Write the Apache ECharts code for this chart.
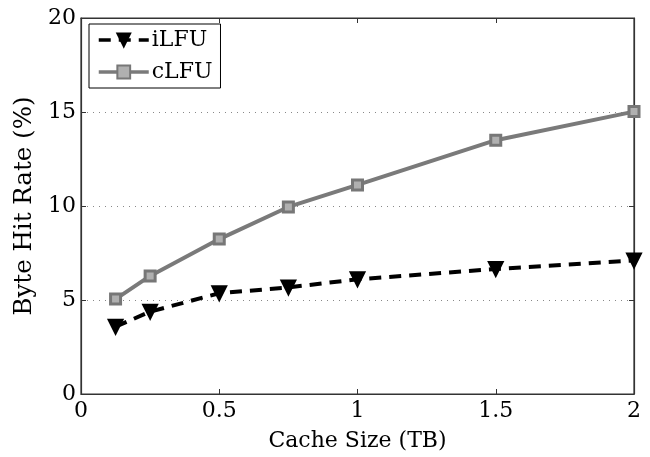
<!DOCTYPE html>
<html><head><meta charset="utf-8">
<script src="https://cdn.jsdelivr.net/npm/echarts@6/dist/echarts.min.js"></script>
<style>html,body{margin:0;padding:0;background:#fff}#c{width:650px;height:457px}</style>
</head><body><div id="c"></div>
<script>
const cacheSizes = [0.125, 0.25, 0.5, 0.75, 1, 1.5, 2];
const iLFU = [3.58, 4.38, 5.36, 5.67, 6.1, 6.65, 7.1];
const cLFU = [5.05, 6.28, 8.24, 9.95, 11.12, 13.5, 15.02];
const xTicks = [0, 0.5, 1, 1.5, 2];
const yTicks = [0, 5, 10, 15, 20];

const font = 'DejaVu Serif';
const chart = echarts.init(document.getElementById('c'));
const axisLine = {show: true, onZero: false, lineStyle: {color: '#333', width: 1.2}};
const tick = {show: true, inside: true, length: 5, lineStyle: {color: '#333'}};
chart.setOption({
  animation: false,
  grid: {left: 81, right: 16, top: 18, bottom: 63, show: true, borderColor: '#333', borderWidth: 1.2, backgroundColor: 'transparent'},
  legend: {
    left: 89, top: 24, orient: 'vertical',
    backgroundColor: '#fff', borderColor: '#000', borderWidth: 1,
    padding: [5, 8, 5, 8], itemGap: 10, itemWidth: 50, itemHeight: 16,
    lineStyle: {width: 3.5},
    textStyle: {fontFamily: font, fontSize: 22, color: '#000', padding: [0, 0, 0, -2]},
    data: ['iLFU', 'cLFU']
  },
  xAxis: [{
    type: 'value', min: 0, max: 2, interval: 0.5,
    name: 'Cache Size (TB)', nameLocation: 'middle', nameGap: 36,
    nameTextStyle: {fontFamily: font, fontSize: 22, color: '#000'},
    axisLine, axisTick: tick,
    axisLabel: {fontFamily: font, fontSize: 22, color: '#000', margin: 6,
      formatter: v => xTicks.includes(v) ? String(v) : ''},
    splitLine: {show: false}
  }, {
    type: 'value', position: 'top', min: 0, max: 2, interval: 0.5,
    axisLine, axisTick: tick, axisLabel: {show: false}, splitLine: {show: false}
  }],
  yAxis: [{
    type: 'value', min: 0, max: 20, interval: 5,
    name: 'Byte Hit Rate (%)', nameLocation: 'middle', nameGap: 42,
    nameTextStyle: {fontFamily: font, fontSize: 24.5, color: '#000'},
    axisLine, axisTick: tick,
    axisLabel: {fontFamily: font, fontSize: 22, color: '#000', margin: 5,
      formatter: v => yTicks.includes(v) ? String(v) : ''},
    splitLine: {show: true, lineStyle: {color: '#888', type: [1, 5], width: 1}}
  }, {
    type: 'value', position: 'right', min: 0, max: 20, interval: 5,
    axisLine, axisTick: tick, axisLabel: {show: false}, splitLine: {show: false}
  }],
  series: [{
    name: 'iLFU', type: 'line', xAxisIndex: 0, yAxisIndex: 0,
    data: cacheSizes.map((x, i) => [x, iLFU[i]]),
    symbol: 'triangle', symbolRotate: 180, symbolSize: 14,
    lineStyle: {color: '#000', width: 4, type: [12, 8]},
    itemStyle: {color: '#000', borderColor: '#000', borderWidth: 2},
    z: 3
  }, {
    name: 'cLFU', type: 'line', xAxisIndex: 0, yAxisIndex: 0,
    data: cacheSizes.map((x, i) => [x, cLFU[i]]),
    symbol: 'rect', symbolSize: 10,
    lineStyle: {color: '#7a7a7a', width: 4},
    itemStyle: {color: '#b0b0b0', borderColor: '#777', borderWidth: 3},
    z: 2
  }]
});
</script></body></html>
